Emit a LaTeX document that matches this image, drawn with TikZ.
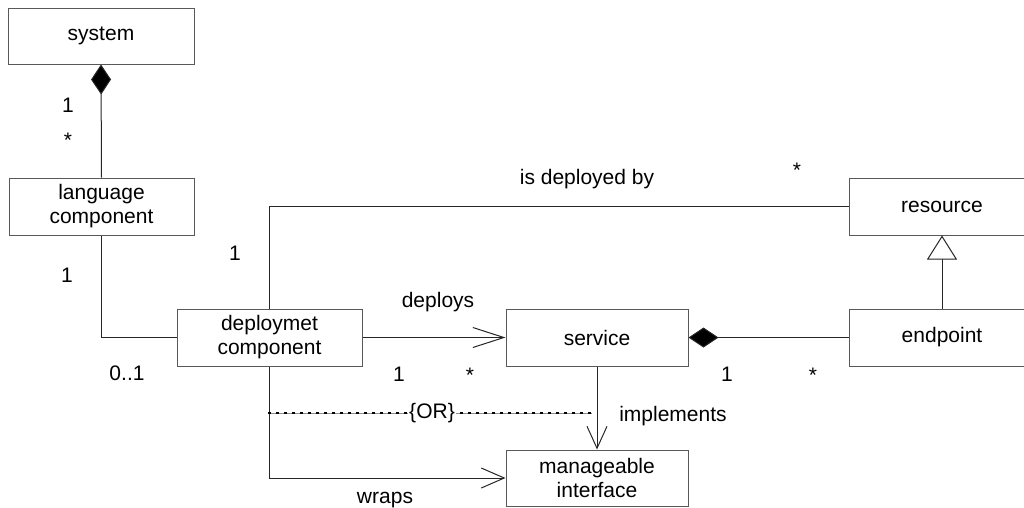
\documentclass[tikz,border=0pt]{standalone}
\usepackage{fontspec}
\setmainfont{Liberation Sans}
\usetikzlibrary{arrows.meta}
\begin{document}
\begin{tikzpicture}[x=1pt,y=-1pt,
  every node/.style={font=\fontsize{21}{24}\selectfont},
  cls/.style={draw=black!65,line width=1pt,fill=white,align=center,inner sep=0pt},
  conn/.style={draw=black!85,line width=1pt},
  lbl/.style={anchor=base,inner sep=0pt},
  comp/.style={conn,{Diamond[length=30pt,width=20pt,fill=black]}-},
  nav/.style={conn,-{Straight Barb[length=#1,width=20pt,line width=1pt]}},
  gen/.style={conn,{Triangle[open,length=24pt,width=30pt,fill=white]}-},
  ordots/.style={line width=2.6pt,dash pattern=on 2.6pt off 5.4pt},
  orline/.style={draw=black!45,line width=0.6pt}
]
\useasboundingbox (0,0) rectangle (1024,507);
\clip (0,0) rectangle (1024,507);
\node[cls,minimum width=186pt,minimum height=56pt] (system) at (101,36) {system};
\node[cls,minimum width=185pt,minimum height=57pt] (lang) at (101.5,206.5) {language\\component};
\node[cls,minimum width=185pt,minimum height=57pt] (deploy) at (269.5,337.5) {deploymet\\component};
\node[cls,minimum width=182pt,minimum height=57pt] (service) at (597,337.5) {service};
\node[cls,minimum width=186pt,minimum height=57pt] (endpoint) at (942,337.5) {endpoint};
\node[cls,minimum width=186pt,minimum height=57pt] (resource) at (942,206.5) {resource};
\node[cls,minimum width=182pt,minimum height=56pt] (mi) at (597,478) {manageable\\interface};

\draw[comp] (system.south) -- (lang.north);
\draw[conn] (lang.south) |- (deploy.west);
\draw[conn] (deploy.north) |- (resource.west);
\draw[nav=31pt] (deploy.east) -- (service.west);
\draw[comp] (service.east) -- (endpoint.west);
\draw[gen] (resource.south) -- (endpoint.north);
\draw[nav=22pt] (service.south) -- (mi.north);
\draw[nav=23pt] (deploy.south) |- (mi.west);

\coordinate (orL) at (268.2,413);
\coordinate (orR) at (592,413);
\draw[orline] (orL) -- (orR);
\draw[ordots] (orL) -- (orR);
\node[fill=white,inner sep=1pt] (or) at (432,413) {\{OR\}};

\node[lbl] (l1) at (68,112.5) {1};
\node[lbl] (l2) at (68,147) {*};
\node[lbl] (l3) at (67,282.5) {1};
\node[lbl] (l4) at (127,380.5) {0..1};
\node[lbl] (l5) at (235,260.5) {1};
\node[lbl] (l6) at (587,184) {is deployed by};
\node[lbl] (l7) at (797,177) {*};
\node[lbl] (l8) at (438,307) {deploys};
\node[lbl] (l9) at (399,381.5) {1};
\node[lbl] (l10) at (470,382) {*};
\node[lbl] (l11) at (673,421) {implements};
\node[lbl] (l12) at (727,381.5) {1};
\node[lbl] (l13) at (813,382) {*};
\node[lbl] (l14) at (385,503) {wraps};
\end{tikzpicture}
\end{document}
